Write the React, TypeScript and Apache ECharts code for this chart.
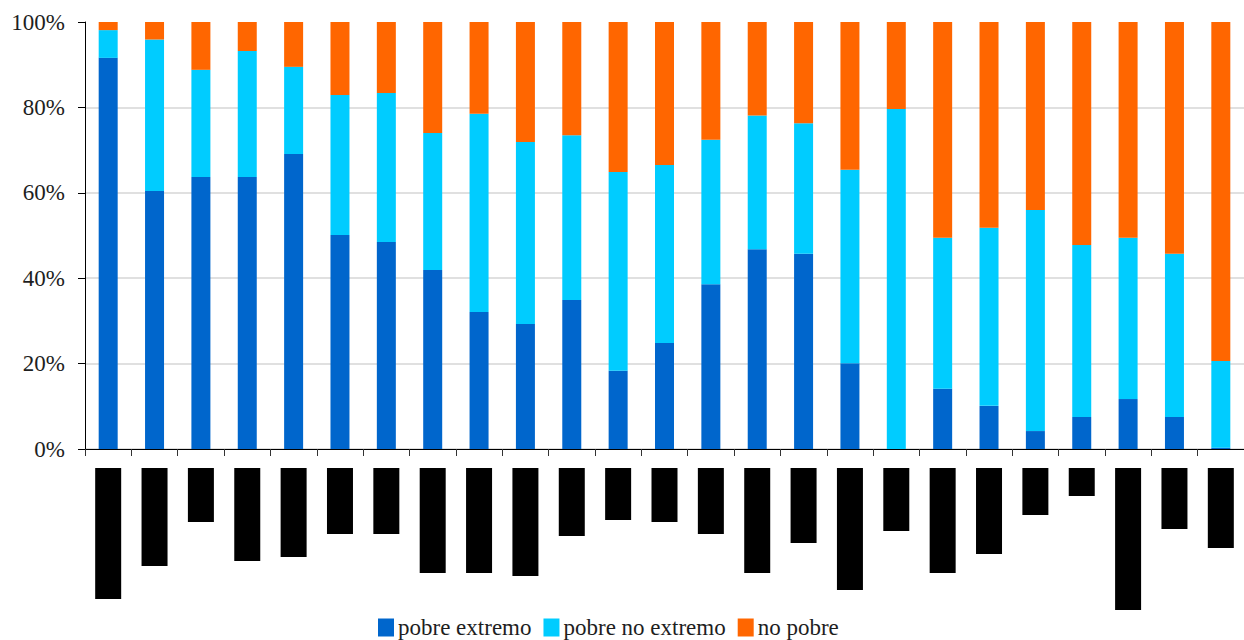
import React, { useEffect, useRef } from "react";
import * as echarts from "echarts";

// 25 grupos (sus nombres aparecen tachados en negro bajo el eje)
const categories = Array.from({ length: 25 }, (_, i) => `G${i + 1}`);

// Porcentajes por grupo
const pobreExtremo = [91.6, 60.4, 63.7, 63.7, 69.1, 50.1, 48.5, 41.9, 32.1, 29.3, 34.9, 18.3, 24.8, 38.6, 46.8, 45.7, 20.1, 0, 14.1, 10.1, 4.2, 7.5, 11.7, 7.5, 0.3];
const pobreNoExtremo = [6.5, 35.5, 25.1, 29.5, 20.4, 32.8, 34.9, 32.1, 46.4, 42.6, 38.6, 46.6, 41.7, 33.8, 31.3, 30.6, 45.3, 79.6, 35.4, 41.7, 51.8, 40.3, 37.8, 38.2, 20.3];
const noPobre = [1.9, 4.1, 11.2, 6.8, 10.5, 17.1, 16.6, 26.0, 21.5, 28.1, 26.5, 35.1, 33.5, 27.6, 21.9, 23.7, 34.6, 20.4, 50.5, 48.2, 44.0, 52.2, 50.5, 54.3, 79.4];

// Longitud (px) de las etiquetas tachadas bajo cada barra
const tachadoLongitud = [131, 98, 54, 93, 89, 66, 66, 105, 105, 108, 68, 52, 54, 66, 105, 75, 122, 63, 105, 86, 47, 28, 142, 61, 80];

const yTicks = [0, 20, 40, 60, 80, 100];

const serif = "Liberation Serif";

export default function App() {
  const ref = useRef<HTMLDivElement>(null);

  useEffect(() => {
    if (!ref.current) return;
    const chart = echarts.init(ref.current, null, { renderer: "svg" });
    chart.setOption({
      animation: false,
      backgroundColor: "#ffffff",
      textStyle: { fontFamily: serif },
      legend: {
        data: ["pobre extremo", "pobre no extremo", "no pobre"],
        left: 378,
        top: 616,
        padding: 0,
        itemWidth: 16,
        itemHeight: 18,
        itemGap: 12,
        icon: "rect",
        textStyle: { fontFamily: serif, fontSize: 23, color: "#1e1e1e", padding: [0, 0, 0, -1] },
      },
      grid: [
        { left: 85, top: 22, width: 1165, height: 427 },
        { left: 85, top: 468, width: 1165, height: 150 },
      ],
      xAxis: [
        {
          type: "category",
          gridIndex: 0,
          data: categories,
          axisLine: { lineStyle: { color: "#000", width: 1 } },
          axisTick: { show: true, length: 7, lineStyle: { color: "#333" } },
          axisLabel: { show: false },
        },
        {
          type: "category",
          gridIndex: 1,
          data: categories,
          axisLine: { show: false },
          axisTick: { show: false },
          axisLabel: { show: false },
        },
      ],
      yAxis: [
        {
          type: "value",
          gridIndex: 0,
          min: yTicks[0],
          max: yTicks[yTicks.length - 1],
          interval: 20,
          axisLine: { show: true, lineStyle: { color: "#000", width: 1 } },
          axisTick: { show: true, length: 7, lineStyle: { color: "#000" } },
          axisLabel: {
            formatter: "{value}%",
            margin: 20,
            fontFamily: serif,
            fontSize: 23,
            color: "#1e1e1e",
          },
          splitLine: {
            show: true,
            showMaxLine: false,
            lineStyle: { color: "#d6d6d6", width: 1.5 },
          },
        },
        {
          type: "value",
          gridIndex: 1,
          min: 0,
          max: 150,
          inverse: true,
          show: false,
          splitLine: { show: false },
        },
      ],
      series: [
        {
          name: "pobre extremo",
          type: "bar",
          stack: "total",
          barWidth: 19,
          data: pobreExtremo,
          itemStyle: { color: "#0066CC" },
        },
        {
          name: "pobre no extremo",
          type: "bar",
          stack: "total",
          barWidth: 19,
          data: pobreNoExtremo,
          itemStyle: { color: "#00CCFF" },
        },
        {
          name: "no pobre",
          type: "bar",
          stack: "total",
          barWidth: 19,
          data: noPobre,
          itemStyle: { color: "#FF6600" },
        },
        {
          name: "tachado",
          type: "bar",
          xAxisIndex: 1,
          yAxisIndex: 1,
          barWidth: 26,
          data: tachadoLongitud,
          itemStyle: { color: "#000" },
          silent: true,
        },
      ],
    });
    return () => chart.dispose();
  }, []);

  return (
    <div
      ref={ref}
      style={{ position: "absolute", left: 0, top: 0, width: 1244, height: 640 }}
    />
  );
}
